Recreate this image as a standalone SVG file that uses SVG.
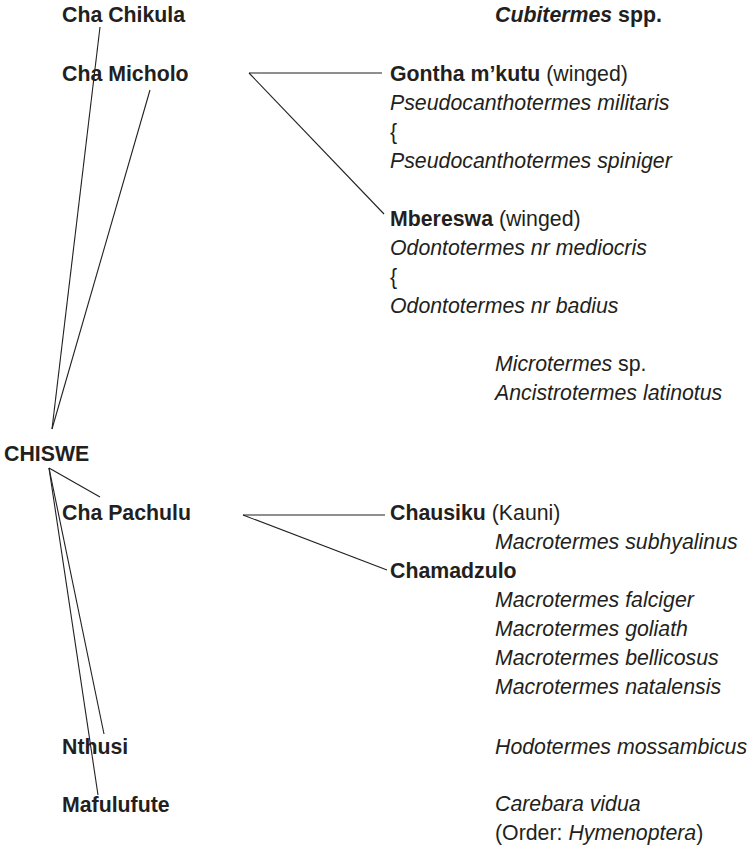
<svg xmlns="http://www.w3.org/2000/svg" width="753" height="850" viewBox="0 0 753 850">
<style>
text{font-family:"Liberation Sans",Arial,Helvetica,sans-serif;font-size:21.3px;fill:#231f20}
.b{font-weight:bold}
.i{font-style:italic}
.conn line{stroke:#231f20;stroke-width:1.1;fill:none}
</style>
<rect width="753" height="850" fill="#ffffff"/>
<g class="conn" id="connectors">
<line x1="100" y1="27" x2="52" y2="429"/>
<line x1="150" y1="90" x2="52" y2="429"/>
<line x1="49" y1="468" x2="100" y2="497"/>
<line x1="49" y1="468" x2="104" y2="734"/>
<line x1="49" y1="468" x2="98" y2="795"/>
<line x1="249" y1="73" x2="382" y2="73"/>
<line x1="249" y1="73" x2="384" y2="214"/>
<line x1="243" y1="515" x2="385" y2="515"/>
<line x1="243" y1="515" x2="387" y2="570"/>
</g>
<g id="chiswe"><text class="b" x="4" y="461">CHISWE</text></g>
<g id="cha-chikula"><text class="b" x="62" y="22">Cha Chikula</text></g>
<g id="cha-micholo"><text class="b" x="62" y="81">Cha Micholo</text></g>
<g id="cha-pachulu"><text class="b" x="62" y="520">Cha Pachulu</text></g>
<g id="nthusi"><text class="b" x="62" y="754">Nthusi</text></g>
<g id="mafulufute"><text class="b" x="62" y="812">Mafulufute</text></g>
<g id="cubitermes"><text class="b" x="495" y="22"><tspan class="i">Cubitermes</tspan> spp.</text></g>
<g id="gontha">
<text x="390" y="81"><tspan class="b">Gontha m’kutu</tspan> (winged)</text>
<text class="i" x="390" y="110">Pseudocanthotermes militaris</text>
<text x="390" y="139">{</text>
<text class="i" x="390" y="168">Pseudocanthotermes spiniger</text>
</g>
<g id="mbereswa">
<text x="390" y="226"><tspan class="b">Mbereswa</tspan> (winged)</text>
<text class="i" x="390" y="255">Odontotermes nr mediocris</text>
<text x="390" y="284">{</text>
<text class="i" x="390" y="313">Odontotermes nr badius</text>
</g>
<g id="microtermes">
<text x="495" y="371"><tspan class="i">Microtermes</tspan> sp.</text>
<text class="i" x="495" y="400">Ancistrotermes latinotus</text>
</g>
<g id="chausiku">
<text x="390" y="520"><tspan class="b">Chausiku</tspan> (Kauni)</text>
<text class="i" x="495" y="549">Macrotermes subhyalinus</text>
</g>
<g id="chamadzulo">
<text class="b" x="390" y="578">Chamadzulo</text>
<text class="i" x="495" y="607">Macrotermes falciger</text>
<text class="i" x="495" y="636">Macrotermes goliath</text>
<text class="i" x="495" y="665">Macrotermes bellicosus</text>
<text class="i" x="495" y="694">Macrotermes natalensis</text>
</g>
<g id="hodotermes"><text class="i" x="495" y="754">Hodotermes mossambicus</text></g>
<g id="carebara">
<text class="i" x="495" y="811">Carebara vidua</text>
<text x="495" y="840">(Order: <tspan class="i">Hymenoptera</tspan>)</text>
</g>
</svg>
